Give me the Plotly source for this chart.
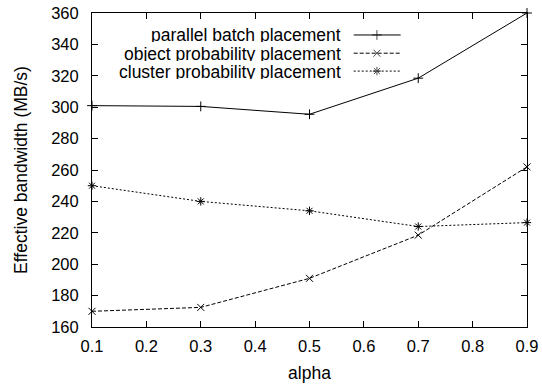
import plotly.graph_objects as go

alpha = [0.1, 0.3, 0.5, 0.7, 0.9]
parallel_batch = [301, 300.5, 295.5, 318.5, 360]
object_prob = [170, 172.5, 191, 218.5, 262]
cluster_prob = [250, 240, 234, 224, 226.5]
series_names = ["parallel batch placement", "object probability placement", "cluster probability placement"]
x_ticks = [0.1, 0.2, 0.3, 0.4, 0.5, 0.6, 0.7, 0.8, 0.9]
y_ticks = [160, 180, 200, 220, 240, 260, 280, 300, 320, 340, 360]

FONT = "Liberation Sans, Arial, sans-serif"
TICK_SIZE = 16.5
TEXT_SIZE = 17.5

styles = [
    dict(dash="solid", symbol="cross-thin"),
    dict(dash="4px,2px", symbol="x-thin"),
    dict(dash="2px,2px", symbol="asterisk"),
]

fig = go.Figure()
for name, ys, st in zip(series_names, [parallel_batch, object_prob, cluster_prob], styles):
    fig.add_trace(go.Scatter(
        x=alpha, y=ys, mode="lines+markers", name=name, showlegend=False,
        line=dict(color="black", width=1, dash=st["dash"]),
        marker=dict(symbol=st["symbol"], size=7, color="black",
                    line=dict(color="black", width=1)),
        cliponaxis=False,
    ))

# custom gnuplot-style legend (text right-aligned, sample to the right)
leg_rows = [0.930, 0.872, 0.815]
for name, yy, st in zip(series_names, leg_rows, styles):
    fig.add_trace(go.Scatter(
        x=[0.6016, 0.655, 0.7095], y=[yy, yy, yy], xaxis="x2", yaxis="y2",
        mode="lines+markers", showlegend=False, hoverinfo="skip",
        line=dict(color="black", width=1, dash=st["dash"]),
        marker=dict(symbol=st["symbol"], size=[0, 7, 0], color="black",
                    line=dict(color="black", width=1)),
        cliponaxis=False,
    ))
    fig.add_annotation(x=0.574, y=yy, xref="x2", yref="y2", text=name,
                       showarrow=False, xanchor="right", yanchor="middle",
                       height=15, borderpad=0,
                       font=dict(size=TEXT_SIZE, color="black", family=FONT))

axis_common = dict(showline=True, linecolor="black", linewidth=1, mirror="ticks",
                   ticks="inside", ticklen=6, tickcolor="black", tickwidth=1,
                   showgrid=False, zeroline=False, ticklabeloverflow="allow",
                   automargin=False,
                   tickfont=dict(size=TICK_SIZE, color="black", family=FONT))

fig.update_layout(
    width=542, height=385,
    margin=dict(l=92, r=15, t=13, b=58),
    paper_bgcolor="white", plot_bgcolor="white",
    font=dict(family=FONT, size=TEXT_SIZE, color="black"),
    hovermode=False,
    xaxis=dict(range=[0.1, 0.9], tickvals=x_ticks, ticktext=[f"{v:.1f}" for v in x_ticks],
               ticklabelstandoff=4,
               title=dict(text="alpha", font=dict(size=TEXT_SIZE), standoff=12), **axis_common),
    yaxis=dict(range=[160, 360], tickvals=y_ticks, ticklabelstandoff=9,
               title=dict(text="Effective bandwidth (MB/s)", font=dict(size=TEXT_SIZE), standoff=19),
               **axis_common),
    xaxis2=dict(overlaying="x", range=[0, 1], visible=False, fixedrange=True),
    yaxis2=dict(overlaying="y", range=[0, 1], visible=False, fixedrange=True),
)

# remove the default page margin so the figure fills the window exactly
fig.write_html("out.html",
               config={"displayModeBar": False},
               post_script="document.body.style.margin='0';document.body.style.overflow='hidden';")
